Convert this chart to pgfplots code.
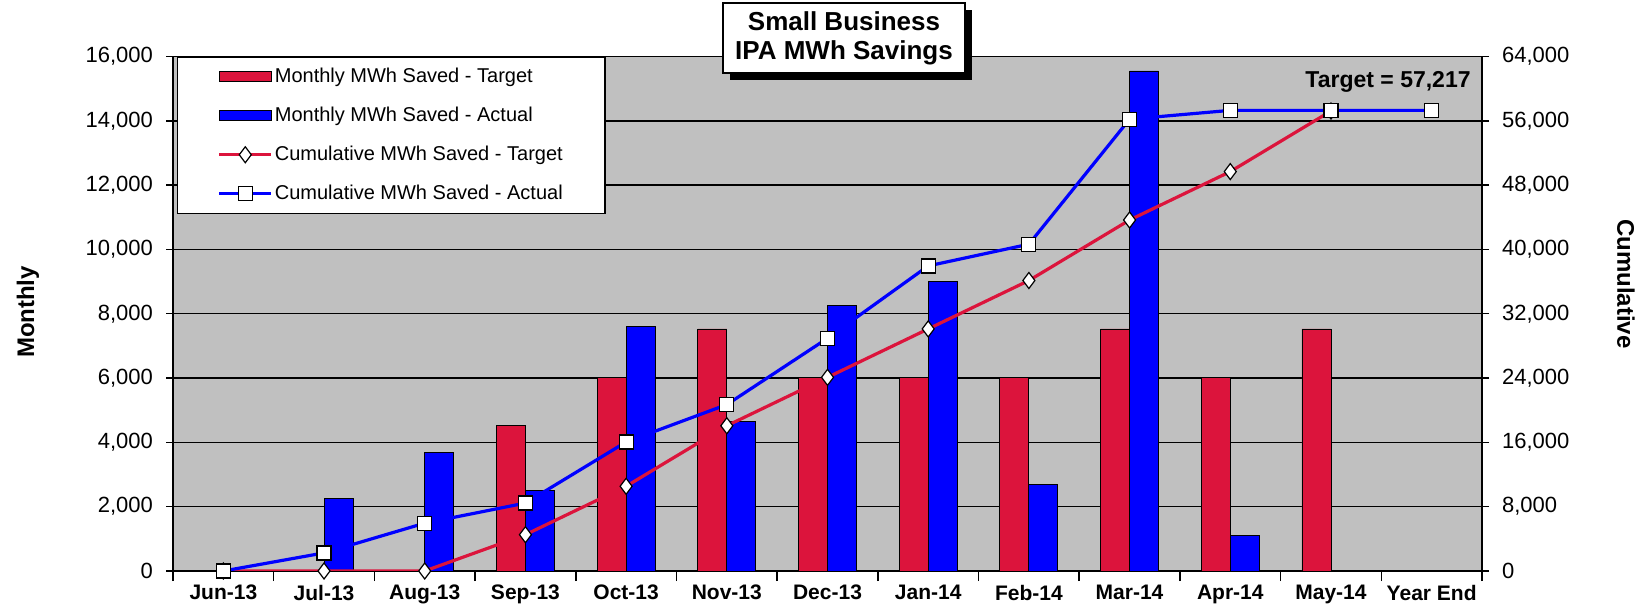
\documentclass[border=0pt]{standalone}
\usepackage{fontspec}
\setmainfont{Liberation Sans}
\usepackage{pgfplots}
\pgfplotsset{compat=1.18}
\usetikzlibrary{shadows}

\definecolor{bggray}{RGB}{192,192,192}
\definecolor{tgtred}{RGB}{220,20,60}
\definecolor{actblue}{RGB}{0,0,255}

\pgfplotsset{
  base/.style={
    at={(86.5pt,22pt)}, anchor=south west,
    scale only axis, width=654.5pt, height=257.25pt,
    xmin=-0.5, xmax=12.5, enlargelimits=false,
    tick align=outside,
    tick style={black, line width=0.75pt},
    major tick length=3.5pt,
    axis line style={black, line width=0.75pt},
    scaled y ticks=false,
    /pgf/number format/assume math mode=true,
    /pgf/number format/fixed,
    /pgf/number format/1000 sep={,},
  },
}

\begin{document}
\begin{tikzpicture}
\useasboundingbox (0,0) rectangle (824pt,307.5pt);

% monthly bars, left axis
\begin{axis}[base,
  axis background/.style={fill=bggray},
  ymin=0, ymax=16000, ytick={0,2000,...,16000}, ytick pos=left,
  ymajorgrids, grid style={black, line width=0.75pt},
  yticklabel style={font=\fontsize{11}{13}\selectfont, xshift=-3pt},
  xtick={0,...,12}, xtick pos=bottom,
  xticklabels={Jun-13,Jul-13,Aug-13,Sep-13,Oct-13,Nov-13,Dec-13,Jan-14,Feb-14,Mar-14,Apr-14,May-14,Year End},
  xticklabel style={font=\bfseries\fontsize{10.5}{12}\selectfont},
  every major x tick/.append style={draw=none},
  minor xtick={-0.5,0.5,...,12.5}, minor tick length=5pt,
  ybar=0pt, bar width=14.5pt,
]
\addplot[fill=tgtred, draw=black, line width=0.4pt] coordinates {
  (3,4517) (4,6022) (5,7528) (6,6022) (7,6022) (8,6022) (9,7528) (10,6022) (11,7528)};
\addplot[fill=actblue, draw=black, line width=0.4pt] coordinates {
  (1,2250) (2,3700) (3,2500) (4,7600) (5,4650) (6,8250) (7,9000) (8,2700) (9,15550) (10,1100)};
\end{axis}

% cumulative lines, right axis
\begin{axis}[base,
  ymin=0, ymax=64000, ytick={0,8000,...,64000},
  axis y line*=right, axis x line=none,
  yticklabel style={font=\fontsize{11}{13}\selectfont, xshift=3pt},
  legend cell align=left,
  legend style={at={(0.003,1.0)}, anchor=north west, draw=black, line width=0.75pt,
    fill=white, inner xsep=20pt, inner ysep=4pt, row sep=8pt,
    font=\fontsize{10}{12}\selectfont,
    nodes={inner sep=1pt, text height=7.5pt, text depth=2pt}},
  legend image code/.code={\draw[mark repeat=2, mark phase=2, #1]
    plot coordinates {(0pt,0pt) (13pt,0pt) (26pt,0pt)};},
]
\addlegendimage{legend image code/.code={\draw[fill=tgtred, draw=black, line width=0.4pt] (0pt,-2.5pt) rectangle (26pt,2.5pt);}}
\addlegendimage{legend image code/.code={\draw[fill=actblue, draw=black, line width=0.4pt] (0pt,-2.5pt) rectangle (26pt,2.5pt);}}
\addplot[tgtred, line width=1.6pt, mark=diamond*, mark size=4pt,
  mark options={fill=white, draw=black, line width=0.6pt}] coordinates {
  (0,0) (1,0) (2,0) (3,4517) (4,10539) (5,18067) (6,24089) (7,30111)
  (8,36133) (9,43661) (10,49683) (11,57217)};
\addplot[actblue, line width=1.6pt, mark=square*, mark size=3.5pt,
  mark options={fill=white, draw=black, line width=0.6pt}] coordinates {
  (0,0) (1,2250) (2,5950) (3,8450) (4,16050) (5,20700) (6,28950) (7,37950)
  (8,40650) (9,56200) (10,57300) (11,57300) (12,57300)};
\legend{Monthly MWh Saved - Target, Monthly MWh Saved - Actual,
  Cumulative MWh Saved - Target, Cumulative MWh Saved - Actual}
\end{axis}

\node[draw=black, line width=0.8pt, fill=white,
  drop shadow={shadow xshift=3.5pt, shadow yshift=-3.5pt, fill=black, opacity=1},
  minimum width=121pt, minimum height=35pt, align=center, inner sep=2pt,
  font=\bfseries\fontsize{13}{14.5}\selectfont] at (422pt,288.5pt)
  {Small Business\\IPA MWh Savings};
\node[anchor=east, inner sep=0pt, font=\bfseries\fontsize{11.5}{13}\selectfont]
  at (735.5pt,266.5pt) {Target = 57,217};
\node[rotate=90, font=\bfseries\fontsize{12}{14}\selectfont] at (14pt,151.5pt) {Monthly};
\node[rotate=-90, font=\bfseries\fontsize{12}{14}\selectfont] at (813pt,165.5pt) {Cumulative};
\end{tikzpicture}
\end{document}
